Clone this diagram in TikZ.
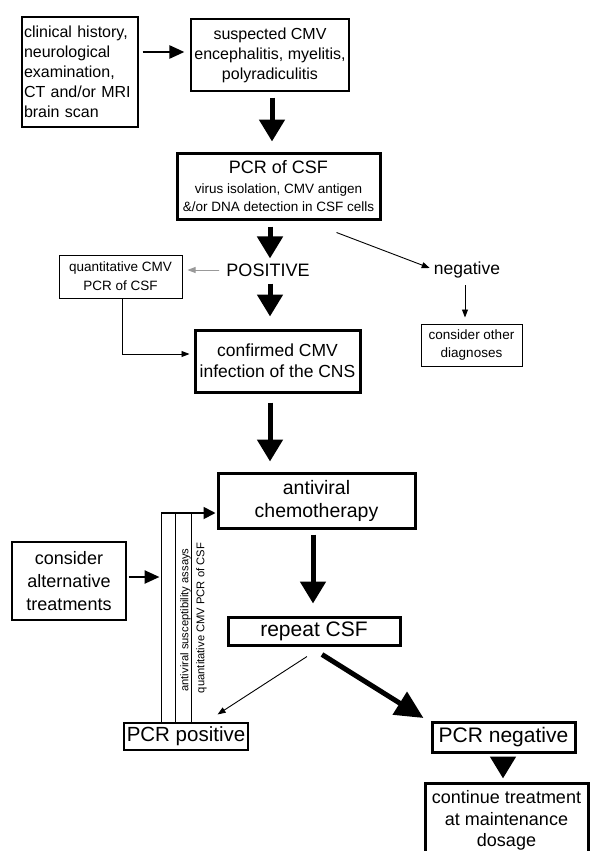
\documentclass[tikz,border=0pt]{standalone}
\usepackage{fontspec}
\setmainfont{Liberation Sans}
\usetikzlibrary{arrows.meta,calc}
\newcommand\myfs[2]{\fontsize{#1}{#2}\selectfont}
\begin{document}
\begin{tikzpicture}[x=1pt,y=-1pt,
  box/.style={draw, line width=1.2pt, inner sep=0pt, align=center},
  tbox/.style={draw, line width=3pt, inner sep=0pt, align=center},
  bigarr/.style={line width=5pt, -{Triangle[width=25pt,length=22pt]}},
  midarr/.style={line width=2.5pt, -{Triangle[width=13pt,length=15pt]}},
  fbarr/.style={line width=1.8pt, -{Triangle[width=12pt,length=12pt]}},
  thinarr/.style={line width=0.9pt, -{Triangle[width=6pt,length=8pt]}},
  lbl/.style={inner sep=1pt}
]
\useasboundingbox (0,0) rectangle (605,851);

% boxes
\node[box, minimum width=116pt, minimum height=110pt, text width=112pt, inner xsep=2pt, align=left, font=\myfs{16}{20}] (clin) at (80,72)
  {clinical history,\\neurological\\examination,\\CT and/or MRI\\brain scan};
\node[box, minimum width=158pt, minimum height=72pt, font=\myfs{16}{20}] (susp) at (270,55)
  {suspected CMV\\encephalitis, myelitis,\\polyradiculitis};
\node[tbox, minimum width=203pt, minimum height=66pt, font=\myfs{13.5}{18}] (pcr) at (278.5,186)
  {\myfs{18}{20}PCR of CSF\\[2pt]virus isolation, CMV antigen\\\&/or DNA detection in CSF cells};
\node[lbl, font=\myfs{18}{20}] (pos) at (268,270) {POSITIVE};
\node[lbl, font=\myfs{17.5}{20}] (neg) at (467,270) {negative};
\node[box, line width=1pt, minimum width=123pt, minimum height=43pt, font=\myfs{13.5}{19}] (quant) at (120.5,276.5)
  {quantitative CMV\\PCR of CSF};
\node[box, line width=1pt, minimum width=101pt, minimum height=42pt, font=\myfs{13.5}{18}] (other) at (471.5,345)
  {consider other\\diagnoses};
\node[tbox, minimum width=165pt, minimum height=62pt, font=\myfs{17.5}{21}] (conf) at (277.5,361)
  {confirmed CMV\\infection of the CNS};
\node[tbox, minimum width=197pt, minimum height=55pt, font=\myfs{19.5}{23}] (anti) at (316.5,500.5)
  {antiviral\\chemotherapy};
\node[box, minimum width=114pt, minimum height=78pt, font=\myfs{18}{23}] (alt) at (69,581)
  {consider\\alternative\\treatments};
\node[tbox, minimum width=172pt, minimum height=28pt, font=\myfs{21}{24}] (rep) at (314,631) {repeat CSF};
\node[box, minimum width=124pt, minimum height=27pt, font=\myfs{20.5}{24}] (ppos) at (186,736.5) {PCR positive};
\node[tbox, minimum width=143pt, minimum height=30pt, font=\myfs{21}{24}] (pneg) at (503.5,737) {PCR negative};
\node[tbox, minimum width=163pt, minimum height=75pt, font=\myfs{18}{21.7}] (cont) at (506.5,820.5)
  {continue treatment\\at maintenance\\dosage};

% main arrows
\draw[midarr] (clin.east |- susp.west) ++(4,-3) coordinate (a1s) -- ($(susp.west)+(-6,-3)$);
\draw[bigarr] ($(susp.south)+(2,6)$) -- ($(pcr.north)+(-6.5,-10)$);
\draw[bigarr] ($(pcr.south)+(-8.5,6)$) -- ($(pos.north)+(2,-4)$);
\draw[thinarr, draw=gray!80, fill=black] (pos.west) ++(-6,0) -- ($(quant.east)+(5,-6.5)$);
\draw[thinarr] (quant.south) ++(1.5,0) |- ($(conf.west)+(-4,-7)$);
\draw[bigarr] ($(pos.south)+(2,6)$) -- ($(conf.north)+(-7.5,-12)$);
\draw[thinarr] ($(pcr.south east)+(-45,12)$) -- ($(neg.west)+(-3,-2)$);
\draw[thinarr] ($(neg.south)+(-2,6)$) -- ($(other.north)+(-6.5,-6)$);
\draw[bigarr] ($(conf.south)+(-7.5,9)$) -- ($(anti.north)+(-46.5,-10)$);
\draw[bigarr] ($(anti.south)+(-3.5,5)$) -- ($(rep.north)+(-1,-12)$);
\draw[thinarr] ($(rep.south)+(-7,10)$) -- ($(ppos.north east)+(-31,-8)$);
\draw[line width=5pt, -{Triangle[width=26pt,length=28pt]}] ($(rep.south)+(8,8)$) -- ($(pneg.west)+(-7,-19)$);
\draw[bigarr] ($(pneg.south)+(-0.5,6)$) -- ($(cont.north)+(-3.5,-3)$);

% feedback loop
\coordinate (fbtop) at ($(anti.west)+(-55,12.5)$);
\draw[fbarr] (ppos.north -| fbtop) |- ($(anti.west)+(-1,12.5)$);
\draw[line width=1.2pt] ($(ppos.north -| fbtop)+(14,0)$) -- ($(fbtop)+(14,0)$);
\draw[line width=1.2pt] ($(ppos.north -| fbtop)+(30,0)$) -- ($(fbtop)+(30,0)$);
\node[rotate=90, inner sep=0pt, font=\myfs{11.2}{13}] (asa) at (185.5,620) {antiviral susceptibility assays};
\node[rotate=90, inner sep=0pt, font=\myfs{11.2}{13}] (qcp) at (201.5,618) {quantitative CMV PCR of CSF};
\draw[midarr] ($(alt.east)+(2,-4)$) -- ($(alt.east -| fbtop)+(-2,-4)$);
\end{tikzpicture}
\end{document}
